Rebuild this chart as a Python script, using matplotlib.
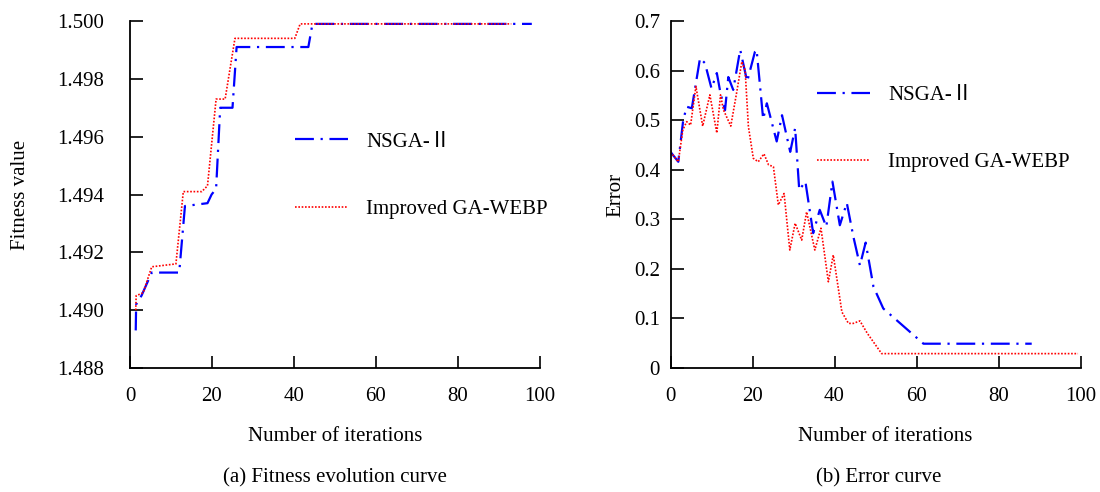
import matplotlib
matplotlib.use("Agg")
import matplotlib.pyplot as plt
from matplotlib.ticker import FixedLocator
from matplotlib.font_manager import FontProperties

plt.rcParams['font.family'] = ['Liberation Serif', 'Noto Sans CJK SC', 'DejaVu Serif']

# ---- (a) Fitness evolution data ----
fit_nsga_x = [1.4, 1.5, 2.8, 5.3, 12, 13.4, 18.9, 19.9, 21, 22, 25, 26, 41.5, 43.5, 44.5, 98]
fit_nsga_y = [1.4893, 1.4902, 1.4905, 1.4913, 1.4913, 1.4936, 1.4937, 1.4940, 1.4942, 1.4970,
              1.4970, 1.4991, 1.4991, 1.4991, 1.4999, 1.4999]
fit_imp_x = [1.4, 1.5, 3.2, 5.3, 11.2, 13, 17.5, 18.9, 21, 23.2, 25.6, 40.2, 41.5, 93]
fit_imp_y = [1.4900, 1.4905, 1.4906, 1.4915, 1.4916, 1.4941, 1.4941, 1.4943, 1.4973, 1.4973,
             1.4994, 1.4994, 1.4999, 1.4999]

# ---- (b) Error data ----
err_nsga_x = [0, 1.9, 3.1, 3.95, 5.2, 7.2, 8.4, 10, 11.3, 12.2, 13.3, 14.1, 15.3, 17, 18.7, 20.6,
              21, 21.7, 22.6, 23.5, 25.9, 27.2, 29.2, 30.4, 31.4, 32.9, 34.8, 36.4, 38, 39.5,
              41.3, 43, 44.6, 46.2, 47.6, 49.5, 51.9, 61.7, 88.1]
err_nsga_y = [0.436, 0.416, 0.50, 0.527, 0.524, 0.625, 0.615, 0.564, 0.595, 0.554, 0.52, 0.587,
              0.561, 0.642, 0.578, 0.638, 0.642, 0.581, 0.502, 0.534, 0.457, 0.51, 0.436, 0.484,
              0.359, 0.376, 0.272, 0.319, 0.285, 0.376, 0.288, 0.333, 0.265, 0.207, 0.253,
              0.164, 0.12, 0.049, 0.049]
err_imp_x = [0, 1.9, 3, 3.95, 4.9, 6.2, 7.85, 9.6, 11.3, 12.2, 12.9, 14.7, 16.1, 17.4, 18.2, 19,
             20.2, 21.4, 22.8, 23.9, 25.1, 26.3, 27.7, 29.1, 30.4, 32, 33.2, 35.2, 36.7, 38.5,
             39.7, 41.8, 43.4, 44.6, 46.2, 48, 51.5, 99.4]
err_imp_y = [0.436, 0.416, 0.48, 0.497, 0.49, 0.568, 0.488, 0.551, 0.474, 0.551, 0.521, 0.488,
             0.554, 0.618, 0.601, 0.487, 0.423, 0.416, 0.432, 0.41, 0.406, 0.329, 0.352, 0.238,
             0.292, 0.258, 0.315, 0.238, 0.282, 0.174, 0.228, 0.113, 0.09, 0.09, 0.095, 0.07,
             0.029, 0.029]

x_ticks = [0, 20, 40, 60, 80, 100]
fit_ticks = [1.488, 1.490, 1.492, 1.494, 1.496, 1.498, 1.500]
fit_labels = ['1.488', '1.490', '1.492', '1.494', '1.496', '1.498', '1.500']
err_ticks = [0, 0.1, 0.2, 0.3, 0.4, 0.5, 0.6, 0.7]
err_labels = ['0', '0.1', '0.2', '0.3', '0.4', '0.5', '0.6', '0.7']

label_nsga = 'NSGA-Ⅱ'
label_imp = 'Improved GA-WEBP'

W, H = 1100, 492
fig = plt.figure(figsize=(W / 100, H / 100), dpi=100)

FS = 15
blue_kw = dict(color='#0000ff', lw=1.6, dashes=(8.5, 3, 1, 3))
red_kw = dict(color='#ff0000', lw=1.2, linestyle=(0, (1, 1)))
leg_font = FontProperties(family=['Liberation Serif', 'Noto Sans CJK SC', 'DejaVu Serif'], size=FS)


def style(ax, ypad):
    for s in ['top', 'right']:
        ax.spines[s].set_visible(False)
    for s in ['left', 'bottom']:
        ax.spines[s].set_linewidth(1.3)
    ax.tick_params(direction='in', length=9, width=1.2, labelsize=FS)
    ax.tick_params(axis='x', pad=14)
    ax.tick_params(axis='y', pad=ypad)
    ax.set_xlim(0, 100)
    ax.xaxis.set_major_locator(FixedLocator(x_ticks))


ax1 = fig.add_axes([130 / W, 1 - 368 / H, 410 / W, 347 / H])
ax1.plot(fit_nsga_x, fit_nsga_y, label=label_nsga, **blue_kw)
ax1.plot(fit_imp_x, fit_imp_y, label=label_imp, **red_kw)
style(ax1, 18.5)
ax1.set_ylim(1.488, 1.500)
ax1.set_yticks(fit_ticks)
ax1.set_yticklabels(fit_labels)
ax1.set_xlabel('Number of iterations', fontsize=FS)
ax1.xaxis.set_label_coords(0.5, -0.170)
ax1.set_ylabel('Fitness value', fontsize=FS)
ax1.yaxis.set_label_coords(-0.245, 0.5)
ax1.legend(loc='center left', bbox_to_anchor=((295 - 130) / 410, (368 - 175.5) / 347),
           frameon=False, prop=leg_font, handlelength=2.55, handletextpad=0.87,
           labelspacing=2.28, borderpad=0, borderaxespad=0)

ax2 = fig.add_axes([670.5 / W, 1 - 368 / H, 410 / W, 347 / H])
ax2.plot(err_nsga_x, err_nsga_y, label=label_nsga, **blue_kw)
ax2.plot(err_imp_x, err_imp_y, label=label_imp, **red_kw)
style(ax2, 7.5)
ax2.set_ylim(0, 0.7)
ax2.set_yticks(err_ticks)
ax2.set_yticklabels(err_labels)
ax2.set_xlabel('Number of iterations', fontsize=FS)
ax2.xaxis.set_label_coords(0.523, -0.170)
ax2.set_ylabel('Error', fontsize=FS)
ax2.yaxis.set_label_coords(-0.11, 0.5)
ax2.legend(loc='center left', bbox_to_anchor=((817 - 670.5) / 410, (368 - 129) / 347),
           frameon=False, prop=leg_font, handlelength=2.55, handletextpad=0.87,
           labelspacing=2.28, borderpad=0, borderaxespad=0)

fig.text(335 / W, 1 - 478 / H, '(a) Fitness evolution curve', ha='center', va='center', fontsize=FS)
fig.text(879 / W, 1 - 478 / H, '(b) Error curve', ha='center', va='center', fontsize=FS)

fig.savefig('out.png', dpi=100)
